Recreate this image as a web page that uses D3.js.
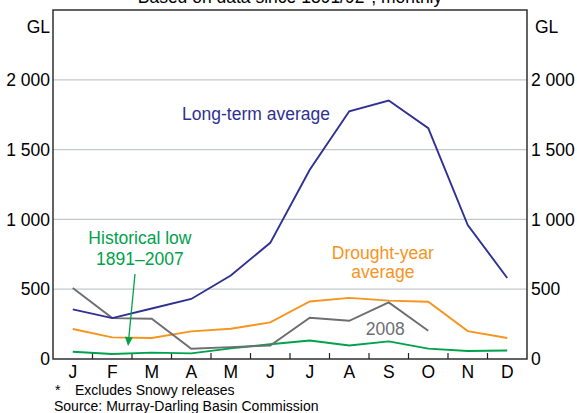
<!DOCTYPE html>
<html>
<head>
<meta charset="utf-8">
<script src="https://cdn.jsdelivr.net/npm/d3@7"></script>
<style>
  html, body { margin: 0; padding: 0; background: #fff; }
  svg { display: block; font-family: "Liberation Sans", Arial, sans-serif; }
</style>
</head>
<body>
<svg id="chart" width="577" height="413"></svg>
<script>
// ---- data ----
const months = ["J","F","M","A","M","J","J","A","S","O","N","D"];
const longTermAverage = [355, 293, 362, 430, 598, 832, 1355, 1775, 1852, 1654, 960, 580];
const droughtYearAverage = [215, 155, 150, 198, 217, 262, 412, 438, 418, 410, 200, 150];
const historicalLow = [52, 36, 46, 40, 76, 106, 132, 97, 126, 74, 57, 61];
const year2008 = [508, 293, 288, 74, 85, 97, 296, 274, 405, 203];
const yTicks = [0, 500, 1000, 1500, 2000];
const yTickLabels = ["0", "500", "1 000", "1 500", "2 000"];

// ---- layout ----
const W = 577, H = 413;
const L = 53, R = 527, T = 10, B = 359;
const svg = d3.select("#chart");

const x = d3.scaleLinear().domain([-0.5, 11.5]).range([L, R]);
const y = d3.scaleLinear().domain([0, 2500]).range([B, T]);

const FS = 17.5;

// subtitle (cut off at top, as in the original)
svg.append("text").attr("x", (L + R) / 2).attr("y", 3)
  .attr("text-anchor", "middle").attr("font-size", FS).attr("fill", "#000")
  .text("Based on data since 1891/92*, monthly");

// gridlines
svg.append("g").selectAll("line").data(yTicks.filter(d => d > 0)).join("line")
  .attr("x1", L).attr("x2", R).attr("y1", d => y(d)).attr("y2", d => y(d))
  .attr("stroke", "#c4c8cc").attr("stroke-width", 1.3);

// frame
svg.append("rect").attr("x", L).attr("y", T).attr("width", R - L).attr("height", B - T)
  .attr("fill", "none").attr("stroke", "#222").attr("stroke-width", 1.4);

// month boundary ticks (inside, from bottom)
svg.append("g").selectAll("line").data(d3.range(1, 12)).join("line")
  .attr("x1", d => x(d - 0.5)).attr("x2", d => x(d - 0.5))
  .attr("y1", B).attr("y2", B - 6)
  .attr("stroke", "#222").attr("stroke-width", 1.2);

// month labels
svg.append("g").selectAll("text").data(months).join("text")
  .attr("x", (d, i) => x(i)).attr("y", B + 19)
  .attr("text-anchor", "middle").attr("font-size", FS).attr("fill", "#000")
  .text(d => d);

// y labels left and right
svg.append("g").selectAll("text").data(yTicks).join("text")
  .attr("x", L - 3).attr("y", d => y(d)).attr("dy", "0.35em")
  .attr("text-anchor", "end").attr("font-size", FS).attr("fill", "#000")
  .text((d, i) => yTickLabels[i]);
svg.append("g").selectAll("text").data(yTicks).join("text")
  .attr("x", R + 4).attr("y", d => y(d)).attr("dy", "0.35em")
  .attr("text-anchor", "start").attr("font-size", FS).attr("fill", "#000")
  .text((d, i) => yTickLabels[i]);

// unit labels
svg.append("text").attr("x", L - 3).attr("y", y(2380)).attr("dy", "0.35em")
  .attr("text-anchor", "end").attr("font-size", FS).text("GL");
svg.append("text").attr("x", R + 8).attr("y", y(2380)).attr("dy", "0.35em")
  .attr("text-anchor", "start").attr("font-size", FS).text("GL");

// lines
const line = d3.line().x((d, i) => x(i)).y(d => y(d));
const series = [
  { v: historicalLow, c: "#00a14b" },
  { v: droughtYearAverage, c: "#f7941d" },
  { v: year2008, c: "#6d6e71" },
  { v: longTermAverage, c: "#2e3192" }
];
svg.append("g").selectAll("path").data(series).join("path")
  .attr("d", d => line(d.v)).attr("fill", "none")
  .attr("stroke", d => d.c).attr("stroke-width", 1.9)
  .attr("stroke-linejoin", "miter");

// annotations
function label(txt, i, v, color) {
  svg.append("text").attr("x", x(i)).attr("y", y(v))
    .attr("text-anchor", "middle").attr("font-size", FS).attr("fill", color).text(txt);
}
label("Long-term average", 4.64, 1712, "#2e3192");
label("Drought-year", 7.85, 716, "#f7941d");
label("average", 7.85, 580, "#f7941d");
label("Historical low", 1.70, 824, "#00a14b");
label("1891\u20132007", 1.70, 673, "#00a14b");
label("2008", 7.91, 172, "#6d6e71");

// arrow
const ax1 = x(1.576), ay1 = y(609), ax2 = x(1.40), ay2 = y(93);
const ang = Math.atan2(ay2 - ay1, ax2 - ax1);
const hl = 9, hw = 4;
const bx = ax2 - hl * Math.cos(ang), by = ay2 - hl * Math.sin(ang);
svg.append("line").attr("x1", ax1).attr("y1", ay1).attr("x2", bx).attr("y2", by)
  .attr("stroke", "#00a14b").attr("stroke-width", 1.3);
svg.append("path")
  .attr("d", `M${ax2},${ay2} L${bx + hw * Math.sin(ang)},${by - hw * Math.cos(ang)} L${bx - hw * Math.sin(ang)},${by + hw * Math.cos(ang)} Z`)
  .attr("fill", "#00a14b");

// footnotes
svg.append("text").attr("x", 55).attr("y", 395).attr("font-size", 14).text("*");
svg.append("text").attr("x", 75).attr("y", 395).attr("font-size", 14).text("Excludes Snowy releases");
svg.append("text").attr("x", 54).attr("y", 411).attr("font-size", 14).text("Source: Murray-Darling Basin Commission");
</script>
</body>
</html>
